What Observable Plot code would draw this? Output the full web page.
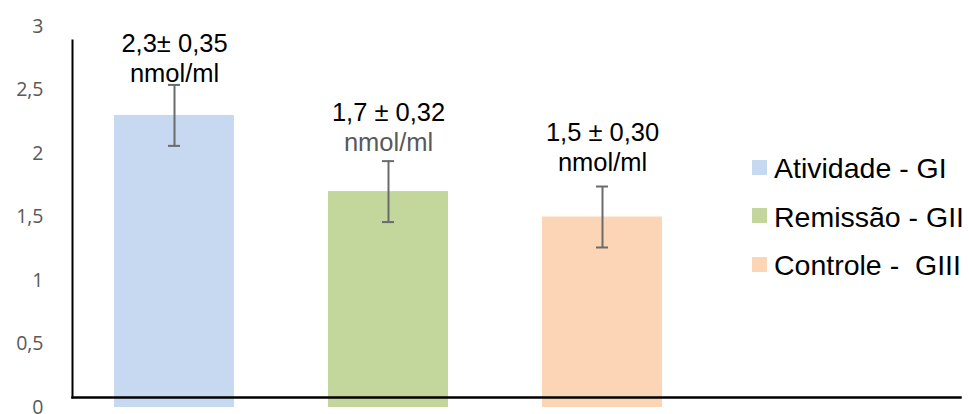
<!DOCTYPE html>
<html>
<head>
<meta charset="utf-8">
<script src="https://cdn.jsdelivr.net/npm/d3@7"></script>
<script src="https://cdn.jsdelivr.net/npm/@observablehq/plot@0.6"></script>
<style>
  html, body { margin: 0; padding: 0; background: #fff; }
  #wrap { position: relative; width: 969px; height: 414px; overflow: hidden; }
  #legend { position: absolute; left: 752px; top: 143px; font-family: "Liberation Sans", Arial, sans-serif; font-size: 28.5px; color: #000; }
  #legend .row { display: flex; align-items: center; height: 48.5px; white-space: pre; }
  #legend .sw { width: 15px; height: 15px; margin-right: 7px; flex: none; }
  #legend .lab { line-height: 1; position: relative; top: 1px; }
</style>
</head>
<body>
<div id="wrap"></div>
<script>
const groups = ["Atividade - GI", "Remissão - GII", "Controle -  GIII"];
const means = [2.3, 1.7, 1.5];
const errors = [0.24, 0.24, 0.24];
const labelLine1 = ["2,3± 0,35", "1,7 ± 0,32", "1,5 ± 0,30"];
const labelLine2 = ["nmol/ml", "nmol/ml", "nmol/ml"];
const labelLine2Colors = ["#000000", "#595959", "#000000"];
const labelY = [2.56, 2.02, 1.86];
const colors = ["#c6d9f0", "#c3d69b", "#fbd5b5"];
const yTicks = [0, 0.5, 1, 1.5, 2, 2.5, 3];

const data = groups.map((g, i) => ({
  group: g, mean: means[i], err: errors[i],
  l1: labelLine1[i], l2: labelLine2[i], l2c: labelLine2Colors[i], ly: labelY[i]
}));

const fmt = d => String(d).replace(".", ",");

const chart = Plot.plot({
  width: 969,
  height: 414,
  marginLeft: 72,
  marginRight: 9,
  marginTop: 40,
  marginBottom: 17,
  style: { background: "#fff", overflow: "visible" },
  x: { domain: groups, range: [72, 704], paddingInner: 0.439, paddingOuter: 0.196, axis: null },
  y: { domain: [0, 3], range: [407, 26] },
  color: { domain: groups, range: colors },
  marks: [
    Plot.barY(data, { x: "group", y: "mean", fill: "group" }),
    Plot.frame({ anchor: "bottom", stroke: "#000", strokeWidth: 2.5 }),
    Plot.frame({ anchor: "left", stroke: "#000", strokeWidth: 2 }),
    Plot.axisY({
      ticks: yTicks, tickSize: 0, tickPadding: 29, tickFormat: fmt,
      fontSize: 19.5, fontFamily: "'Open Sans', sans-serif", color: "#595959", label: null
    }),
    Plot.text(data, { x: "group", y: "ly", text: "l1", dy: -30, lineAnchor: "bottom",
      fontSize: 25.5, fontFamily: "'Liberation Sans', Arial, sans-serif", fill: "#000" }),
    Plot.text(data, { x: "group", y: "ly", text: "l2", lineAnchor: "bottom",
      fontSize: 25.5, fontFamily: "'Liberation Sans', Arial, sans-serif", fill: "l2c" }),
    Plot.ruleX(data, { x: "group", y1: d => d.mean - d.err, y2: d => d.mean + d.err, stroke: "#6b6b6b", strokeWidth: 2 }),
    Plot.tickY(data, { x: "group", y: d => d.mean - d.err, stroke: "#6b6b6b", strokeWidth: 2, insetLeft: 54, insetRight: 54 }),
    Plot.tickY(data, { x: "group", y: d => d.mean + d.err, stroke: "#6b6b6b", strokeWidth: 2, insetLeft: 54, insetRight: 54 })
  ]
});

const wrap = document.getElementById("wrap");
wrap.appendChild(chart);

const legend = document.createElement("div");
legend.id = "legend";
groups.forEach((g, i) => {
  const row = document.createElement("div");
  row.className = "row";
  const sw = document.createElement("span");
  sw.className = "sw";
  sw.style.background = colors[i];
  const lab = document.createElement("span");
  lab.className = "lab";
  lab.textContent = g;
  row.appendChild(sw);
  row.appendChild(lab);
  legend.appendChild(row);
});
wrap.appendChild(legend);
</script>
</body>
</html>
